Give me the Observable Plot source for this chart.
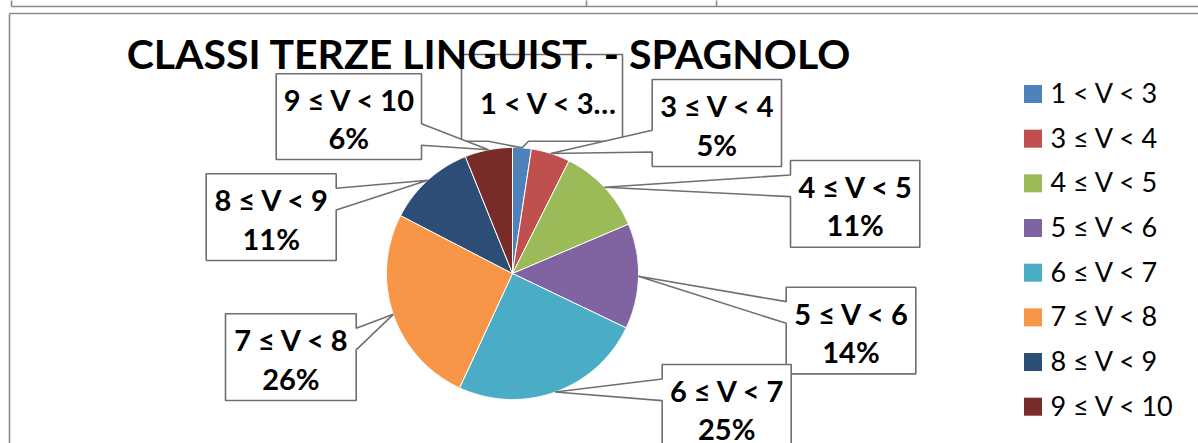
<!DOCTYPE html>
<html><head><meta charset="utf-8">
<script src="https://cdn.jsdelivr.net/npm/d3@7"></script>
<script src="https://cdn.jsdelivr.net/npm/@observablehq/plot@0.6"></script>
<style>html,body{margin:0;padding:0;background:#fff;overflow:hidden}</style>
</head><body><div id="chart"></div>
<script>
// ---- data ----
const title = "CLASSI TERZE LINGUIST. - SPAGNOLO";
const categories = ["1 < V < 3","3 ≤ V < 4","4 ≤ V < 5","5 ≤ V < 6","6 ≤ V < 7","7 ≤ V < 8","8 ≤ V < 9","9 ≤ V < 10"];
const shares = [2.4, 5.0, 11.2, 13.5, 24.8, 25.7, 11.3, 6.1];
const colors = ["#4F81BD","#C0504D","#9BBB59","#8064A2","#4BACC6","#F79646","#2C4D75","#772C2A"];

// ---- layout ----
const W = 1198, H = 443;
const FONT = "Lato, Carlito, 'Open Sans', sans-serif";
const cx = 512, cy = 273, R = 126;
// label boxes: [left, top, width, height, truncated]
const boxes = [
  [461, 54, 161, 86.7, true],
  [651.7, 79, 129.3, 87, false],
  [790, 160, 129.3, 86.7, false],
  [785.7, 286.7, 129.6, 86.7, false],
  [661.7, 364, 129, 86.7, false],
  [225, 313.3, 130.7, 86.7, false],
  [205.7, 173.3, 130, 86.7, false],
  [275.7, 73.3, 145.3, 85.7, false]
];
const legendX = 1024, legendTop = 94, legendStep = 44.67, legendSq = 18;

const total = d3.sum(shares);
let acc = 0;
const slices = shares.map((v, i) => {
  const a0 = acc / total * 2 * Math.PI; acc += v;
  const a1 = acc / total * 2 * Math.PI;
  return {i, a0, a1, mid: (a0 + a1) / 2};
});
const pt = (a, r) => [cx + r * Math.sin(a), cy - r * Math.cos(a)];

const slicePts = slices.flatMap(s => {
  const key = categories[s.i];
  const n = Math.max(2, Math.ceil((s.a1 - s.a0) / (Math.PI / 360)));
  const pts = [{key, x: cx, y: cy}];
  for (let k = 0; k <= n; k++) {
    const [x, y] = pt(s.a0 + (s.a1 - s.a0) * k / n, R);
    pts.push({key, x, y});
  }
  pts.push({key, x: cx, y: cy});
  return pts;
});

// Excel wedgeRectCallout geometry
function callout(id, l, t, w, h, tx, ty) {
  const r = l + w, b = t + h, hc = l + w / 2, vc = t + h / 2;
  const dxPos = tx - hc, dyPos = ty - vc;
  const dx = dxPos * h / w, dy = dyPos;
  const dxdy = Math.abs(dx) - Math.abs(dy);
  const x1 = l + w * (dxPos > 0 ? 7 : 2) / 12, x2 = l + w * (dxPos > 0 ? 10 : 5) / 12;
  const y1 = t + h * (dyPos > 0 ? 7 : 2) / 12, y2 = t + h * (dyPos > 0 ? 10 : 5) / 12;
  const P = [[l, t]];
  if (dxdy <= 0 && dyPos <= 0) P.push([x1, t], [tx, ty], [x2, t]);
  P.push([r, t]);
  if (dxdy > 0 && dxPos > 0) P.push([r, y1], [tx, ty], [r, y2]);
  P.push([r, b]);
  if (dxdy <= 0 && dyPos > 0) P.push([x2, b], [tx, ty], [x1, b]);
  P.push([l, b]);
  if (dxdy > 0 && dxPos <= 0) P.push([l, y2], [tx, ty], [l, y1]);
  P.push([l, t]);
  return P.map(([x, y]) => ({id, x, y}));
}

const calloutPts = slices.flatMap(s => {
  const [l, t, w, h] = boxes[s.i];
  const [tx, ty] = pt(s.mid, R);
  return callout(s.i, l, t, w, h, tx, ty);
});

const labels = slices.map(s => {
  const [l, t, w, h, trunc] = boxes[s.i];
  return {
    x: l + w / 2 + (trunc ? 6 : 0),
    y: trunc ? t + 47 : t + h / 2 + 1,
    text: trunc ? categories[s.i] + "…" : categories[s.i] + "\n" + Math.round(shares[s.i]) + "%"
  };
});

const legend = categories.map((c, i) => ({
  key: c,
  x1: legendX, x2: legendX + legendSq,
  y: legendTop + i * legendStep
}));

const frameSegs = [
  {x1: 11, y1: 0, x2: 11, y2: 6},
  {x1: 11, y1: 6, x2: W, y2: 6},
  {x1: 586, y1: 0, x2: 586, y2: 6},
  {x1: 716, y1: 0, x2: 716, y2: 6},
  {x1: 9, y1: 13, x2: W, y2: 13},
  {x1: 9, y1: 13, x2: 9, y2: H}
];

const chart = Plot.plot({
  width: W, height: H,
  margin: 0,
  x: {domain: [0, W], range: [0, W], axis: null},
  y: {domain: [0, H], range: [0, H], axis: null},
  color: {domain: categories, range: colors},
  style: {fontFamily: FONT, background: "#fff"},
  marks: [
    Plot.link(frameSegs, {x1: "x1", y1: "y1", x2: "x2", y2: "y2", stroke: "#8a8a8a", strokeWidth: 1.6}),
    Plot.line(slicePts, {x: "x", y: "y", z: "key", fill: "key", stroke: "white", strokeWidth: 1, strokeLinejoin: "round"}),
    Plot.line(calloutPts, {x: "x", y: "y", z: "id", fill: "white", stroke: "#6f6f6f", strokeWidth: 1.6, strokeLinejoin: "miter"}),
    Plot.text(labels, {x: "x", y: "y", text: "text", fontSize: 29, fontWeight: "bold", fill: "#000", lineHeight: 38.5 / 29, fontFamily: FONT}),
    Plot.rect(legend, {x1: "x1", x2: "x2", y1: d => d.y - legendSq / 2, y2: d => d.y + legendSq / 2, fill: "key"}),
    Plot.text(legend, {x: d => d.x2 + 8, y: "y", text: "key", textAnchor: "start", fontSize: 27, fill: "#000", fontFamily: FONT}),
    Plot.text([title], {x: 488, y: 55, text: d => d, fontSize: 41, fontWeight: "bold", fill: "#000", fontFamily: FONT})
  ]
});
document.getElementById("chart").appendChild(chart);
</script>
</body></html>
